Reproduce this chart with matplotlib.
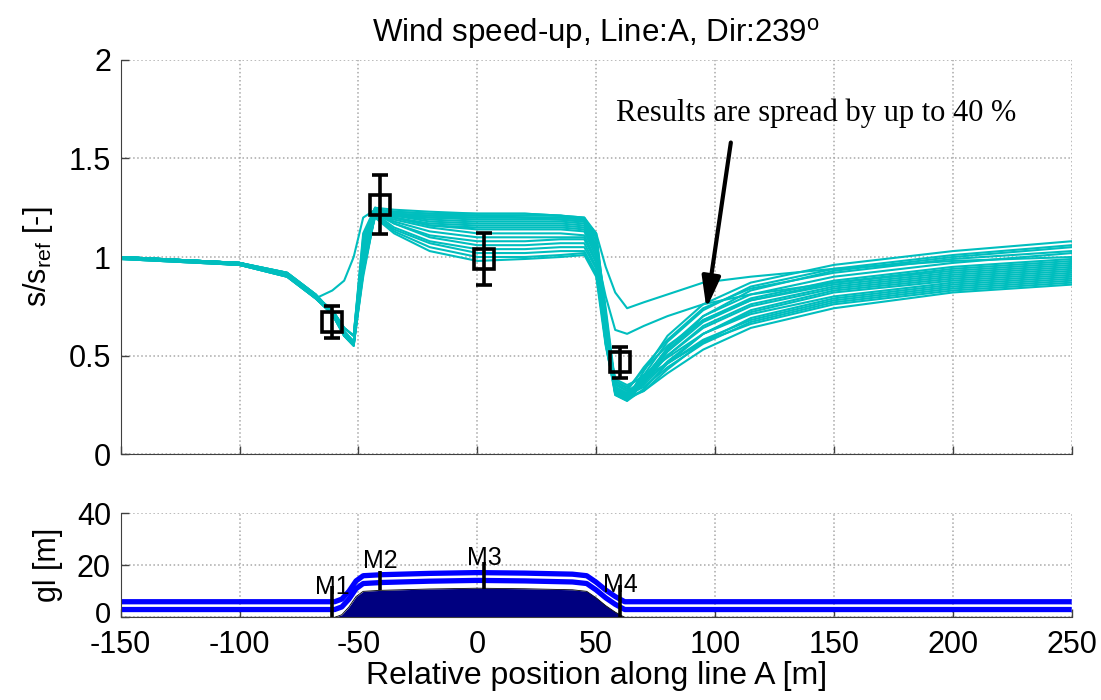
import matplotlib.pyplot as plt
import matplotlib.transforms as mtransforms
import numpy as np

plt.rcParams['font.family'] = ['Liberation Sans', 'DejaVu Sans']
plt.rcParams['font.size'] = 22
plt.rcParams['mathtext.default'] = 'regular'
plt.rcParams['axes.unicode_minus'] = False

# positions along line A where the simulated speed-up was sampled [m]
x_pos = [-150, -100, -80, -68, -61, -56, -52, -48, -43, -35, -20, 0, 20, 35, 45,
         50, 54, 58, 63, 70, 80, 95, 115, 150, 200, 250]

# simulated speed-up s/s_ref, one row per model run
runs = [
    [1.00, 0.97, 0.91, 0.80, 0.72, 0.62, 0.57, 1.00, 1.24, 1.23, 1.22, 1.22, 1.22, 1.21, 1.20,
     1.10, 0.70, 0.32, 0.28, 0.42, 0.60, 0.76, 0.87, 0.96, 1.03, 1.08],
    [0.99, 0.96, 0.91, 0.80, 0.73, 0.64, 0.60, 1.10, 1.25, 1.24, 1.23, 1.22, 1.22, 1.21, 1.20,
     1.12, 0.72, 0.34, 0.30, 0.40, 0.57, 0.73, 0.85, 0.94, 1.01, 1.06],
    [1.00, 0.96, 0.90, 0.79, 0.71, 0.60, 0.55, 0.95, 1.23, 1.22, 1.21, 1.21, 1.21, 1.21, 1.19,
     1.08, 0.66, 0.30, 0.27, 0.36, 0.52, 0.70, 0.83, 0.93, 1.00, 1.05],
    [1.00, 0.97, 0.91, 0.80, 0.72, 0.62, 0.57, 1.02, 1.24, 1.23, 1.22, 1.21, 1.20, 1.20, 1.19,
     1.10, 0.74, 0.36, 0.32, 0.44, 0.58, 0.74, 0.84, 0.92, 0.99, 1.03],
    [1.00, 0.97, 0.92, 0.81, 0.72, 0.61, 0.56, 0.90, 1.22, 1.21, 1.20, 1.20, 1.20, 1.19, 1.18,
     1.06, 0.64, 0.33, 0.29, 0.38, 0.54, 0.70, 0.81, 0.90, 0.97, 1.02],
    [1.00, 0.97, 0.91, 0.79, 0.83, 0.88, 1.00, 1.20, 1.24, 1.22, 1.21, 1.20, 1.20, 1.20, 1.19,
     1.12, 0.95, 0.82, 0.74, 0.77, 0.81, 0.87, 0.90, 0.94, 0.98, 1.00],
    [0.99, 0.96, 0.91, 0.80, 0.73, 0.64, 0.60, 1.08, 1.25, 1.22, 1.20, 1.19, 1.19, 1.19, 1.18,
     1.05, 0.62, 0.33, 0.30, 0.39, 0.53, 0.68, 0.79, 0.88, 0.95, 0.99],
    [1.00, 0.96, 0.90, 0.79, 0.71, 0.60, 0.55, 0.98, 1.23, 1.21, 1.19, 1.18, 1.18, 1.18, 1.17,
     1.04, 0.60, 0.31, 0.28, 0.37, 0.52, 0.67, 0.78, 0.87, 0.94, 0.98],
    [1.00, 0.97, 0.91, 0.80, 0.72, 0.62, 0.57, 1.05, 1.24, 1.21, 1.18, 1.17, 1.17, 1.17, 1.16,
     1.02, 0.80, 0.63, 0.61, 0.65, 0.70, 0.76, 0.81, 0.87, 0.93, 0.97],
    [1.00, 0.97, 0.92, 0.81, 0.72, 0.61, 0.56, 0.92, 1.22, 1.20, 1.17, 1.16, 1.16, 1.16, 1.15,
     1.03, 0.66, 0.37, 0.33, 0.43, 0.55, 0.68, 0.78, 0.86, 0.92, 0.96],
    [1.00, 0.97, 0.91, 0.80, 0.72, 0.62, 0.57, 1.00, 1.24, 1.20, 1.16, 1.15, 1.15, 1.15, 1.14,
     1.02, 0.60, 0.32, 0.29, 0.36, 0.50, 0.65, 0.76, 0.85, 0.91, 0.95],
    [0.99, 0.96, 0.91, 0.80, 0.73, 0.64, 0.60, 1.12, 1.25, 1.20, 1.16, 1.14, 1.14, 1.14, 1.13,
     1.00, 0.62, 0.34, 0.31, 0.38, 0.50, 0.64, 0.75, 0.84, 0.90, 0.94],
    [1.00, 0.96, 0.90, 0.79, 0.71, 0.60, 0.55, 0.96, 1.22, 1.19, 1.15, 1.12, 1.12, 1.12, 1.11,
     0.98, 0.56, 0.30, 0.27, 0.33, 0.46, 0.61, 0.73, 0.83, 0.89, 0.93],
    [1.00, 0.97, 0.91, 0.80, 0.72, 0.62, 0.57, 1.02, 1.23, 1.18, 1.13, 1.10, 1.10, 1.10, 1.10,
     0.98, 0.60, 0.33, 0.30, 0.35, 0.47, 0.61, 0.72, 0.82, 0.88, 0.92],
    [1.00, 0.97, 0.92, 0.81, 0.72, 0.61, 0.56, 0.94, 1.22, 1.17, 1.11, 1.08, 1.08, 1.09, 1.09,
     0.97, 0.64, 0.37, 0.34, 0.40, 0.49, 0.61, 0.71, 0.80, 0.87, 0.91],
    [0.99, 0.96, 0.91, 0.80, 0.73, 0.64, 0.60, 1.06, 1.24, 1.17, 1.10, 1.06, 1.06, 1.07, 1.07,
     0.95, 0.56, 0.31, 0.28, 0.32, 0.43, 0.57, 0.69, 0.79, 0.86, 0.90],
    [1.00, 0.97, 0.91, 0.80, 0.72, 0.62, 0.57, 1.00, 1.22, 1.15, 1.08, 1.04, 1.04, 1.05, 1.05,
     0.94, 0.60, 0.35, 0.32, 0.37, 0.46, 0.58, 0.68, 0.78, 0.85, 0.89],
    [1.00, 0.96, 0.90, 0.79, 0.71, 0.60, 0.55, 0.92, 1.21, 1.14, 1.07, 1.02, 1.02, 1.03, 1.03,
     0.92, 0.57, 0.33, 0.30, 0.34, 0.44, 0.56, 0.67, 0.77, 0.84, 0.88],
    [1.00, 0.97, 0.92, 0.81, 0.72, 0.61, 0.56, 0.96, 1.21, 1.13, 1.05, 1.00, 1.00, 1.01, 1.02,
     0.91, 0.63, 0.38, 0.35, 0.39, 0.46, 0.57, 0.66, 0.76, 0.83, 0.87],
    [1.00, 0.97, 0.91, 0.80, 0.72, 0.62, 0.57, 0.98, 1.20, 1.12, 1.03, 0.98, 0.99, 1.00, 1.01,
     0.90, 0.55, 0.32, 0.29, 0.32, 0.41, 0.53, 0.64, 0.74, 0.82, 0.86],
]

# measurements M1..M4
meas_names = ['M1', 'M2', 'M3', 'M4']
meas_x = [-61, -41, 3, 60]
meas_y = [0.67, 1.265, 0.99, 0.465]
meas_err = [0.08, 0.15, 0.13, 0.08]
mast_bottom = [0, 10.4, 11.0, 0]
mast_top = [12.2, 18.0, 21.4, 12.6]
mast_label_y = [9.1, 19.0, 20.2, 9.9]

# ground level along line A [m]
gl_x = [-150, -60, -57, -54, -51, -48, -40, -20, 0, 20, 40, 46, 50, 54, 58, 62, 250]
gl_z = [0, 0, 1.0, 4.0, 8.0, 10.0, 10.4, 10.9, 11.2, 11.0, 10.6, 10.0, 7.5, 4.5, 2.0, 0, 0]
probe_heights = [3.0, 6.0]

fig = plt.figure(figsize=(11.01, 7.0), dpi=100)
ax = fig.add_axes([0.1096, 0.3514, 0.8638, 0.5629])
ax2 = fig.add_axes([0.1096, 0.1181, 0.8638, 0.1486])

for a in (ax, ax2):
    a.set_xlim(-150, 250)
    a.set_xticks(np.arange(-150, 251, 50))
    a.grid(True, linestyle=':', color='#a8a8a8', lw=1.1)
    a.set_axisbelow(True)
    a.spines[['top', 'right']].set_visible(False)
    for s in ('left', 'bottom'):
        a.spines[s].set_color('#404040')
    a.tick_params(direction='in', length=6, width=1, color='#404040', pad=7)

# top panel: speed-up
for run in runs:
    ax.plot(x_pos, run, color='#00bebe', lw=1.5)
ax.errorbar(meas_x, meas_y, yerr=meas_err, fmt='s', ms=14, mfc='none', mec='k', mew=2.6,
            ecolor='k', elinewidth=2.6, capsize=6, capthick=2.6, zorder=5)
ax.set_ylim(0, 2)
ax.set_yticks([0, 0.5, 1, 1.5, 2])
ax.set_yticklabels(['0', '0.5', '1', '1.5', '2'])
ax.tick_params(labelbottom=False)
ax.set_ylabel('s/s$_{ref}$ [-]')
ax.yaxis.set_label_coords(-0.069, 0.5)
ax.set_title('Wind speed-up, Line:A, Dir:239$^o$', pad=13, fontsize=22.5)

ax.annotate('', xy=(96.2, 0.724), xytext=(106.8, 1.595),
            arrowprops=dict(arrowstyle='-|>,head_length=0.95,head_width=0.28',
                            color='k', lw=3, mutation_scale=20))
ax.text(142.6, 1.73, 'Results are spread by up to 40 %', family='Liberation Serif',
        ha='center', va='center', fontsize=22)

# bottom panel: ground level and masts
gl = np.array(gl_z)
ax2.fill_between(gl_x, 0, gl, color='#000080', lw=0)
ax2.plot(gl_x, gl, color='k', lw=0.6)
for h in probe_heights:
    ax2.plot(gl_x, gl + h, color='#0000ff', lw=3.8, solid_capstyle='butt')
ax2.vlines(meas_x, mast_bottom, mast_top, color='k', lw=2.6)
for name, mx, my in zip(meas_names, meas_x, mast_label_y):
    ax2.text(mx, my, name, ha='center', va='baseline', fontsize=18)
ax2.set_ylim(0, 40)
ax2.set_yticks([0, 20, 40])
ax2.tick_params(axis='x', pad=9)
ax2.set_ylabel('gl [m]')
ax2.yaxis.set_label_coords(-0.061, 0.5)
ax2.set_xlabel('Relative position along line A [m]', labelpad=1, fontsize=23)

# lift the bottom "0" a little so it clears the "-150" below it
lift = mtransforms.ScaledTranslation(0, 4 / 72, fig.dpi_scale_trans)
zero_lbl = ax2.get_yticklabels()[0]
zero_lbl.set_transform(zero_lbl.get_transform() + lift)
zero_lbl.set_fontsize(21)

fig.savefig('out.png', dpi=100)
